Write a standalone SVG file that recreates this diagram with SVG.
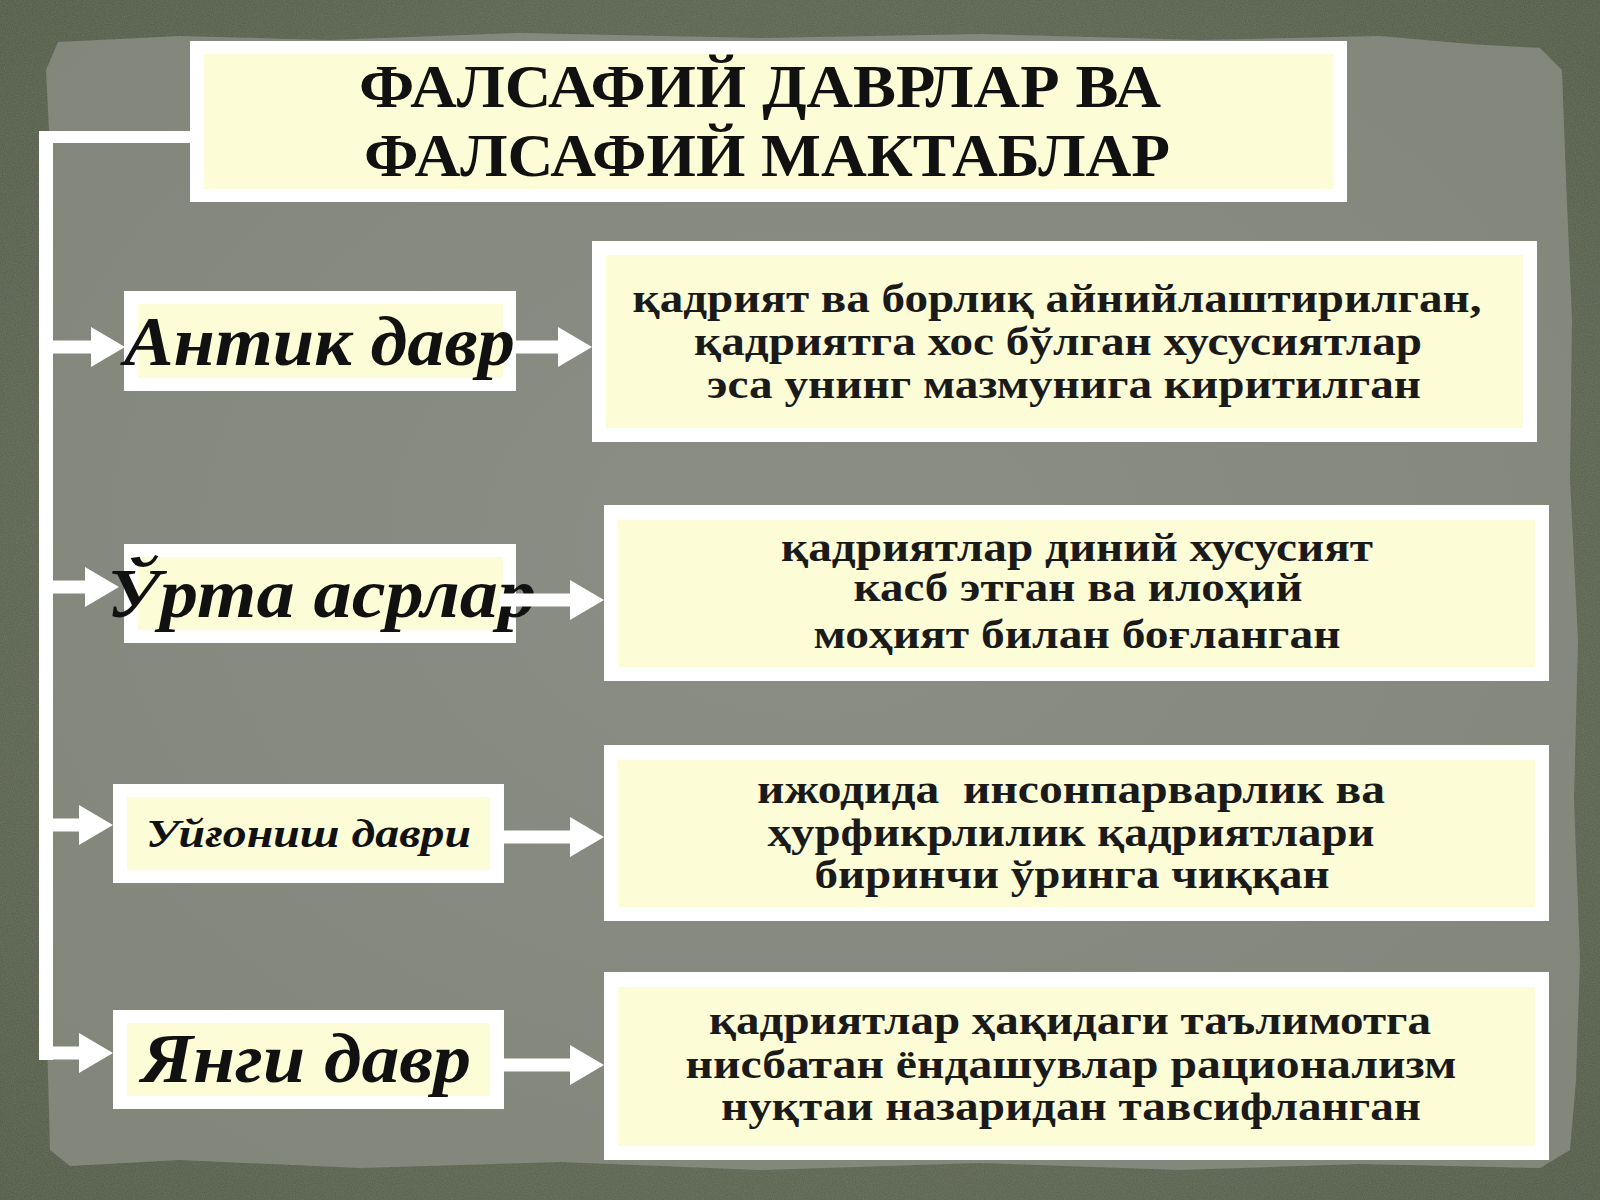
<svg xmlns="http://www.w3.org/2000/svg" width="1600" height="1200" viewBox="0 0 1600 1200">
<defs>
<radialGradient id="paper" cx="50%" cy="45%" r="65%">
<stop offset="0" stop-color="#8b8e85"/>
<stop offset="1" stop-color="#82867b"/>
</radialGradient>
<radialGradient id="frame" cx="50%" cy="50%" r="75%">
<stop offset="0" stop-color="#6a725f"/>
<stop offset="1" stop-color="#4d5543"/>
</radialGradient>
<filter id="grain" x="0" y="0" width="100%" height="100%">
<feTurbulence type="fractalNoise" baseFrequency="0.9" numOctaves="2" seed="3" result="n"/>
<feColorMatrix in="n" type="matrix" values="0 0 0 0 0.35  0 0 0 0 0.38  0 0 0 0 0.3  0 0 0 0.35 0"/>
<feComposite in2="SourceGraphic" operator="in"/>
</filter>
<marker id="head" viewBox="0 0 34 40" refX="1" refY="20" markerWidth="34" markerHeight="40" markerUnits="userSpaceOnUse" orient="auto">
<path d="M0 0 L34 20 L0 40 Z" fill="#ffffff"/>
</marker>
</defs>
<style>
.outer{fill:#ffffff}
.inner{fill:#fcfcd6}
.conn{stroke:#ffffff;stroke-width:13;fill:none;marker-end:url(#head)}
.bar{fill:#ffffff}
.title{font-family:"Liberation Serif","DejaVu Serif",serif;font-weight:bold;font-size:61px;fill:#111111;text-anchor:middle}
.big{font-family:"Liberation Serif","DejaVu Serif",serif;font-weight:bold;font-style:italic;font-size:70px;fill:#111111}
.mid{font-family:"Liberation Serif","DejaVu Serif",serif;font-weight:bold;font-style:italic;font-size:40px;fill:#111111}
.desc{font-family:"Liberation Serif","DejaVu Serif",serif;font-weight:bold;font-size:39px;fill:#1a1a1a;text-anchor:middle}
</style>
<!-- background -->
<rect x="0" y="0" width="1600" height="1200" fill="url(#frame)"/>
<rect x="0" y="0" width="1600" height="1200" fill="#000" filter="url(#grain)"/>
<path d="M58 42 L180 36 L330 40 L520 33 L760 38 L980 34 L1200 40 L1380 36 L1470 44 L1540 48 L1562 70 L1566 180 L1572 320 L1570 480 L1578 640 L1574 800 L1580 960 L1576 1080 L1570 1150 L1540 1168 L1360 1164 L1180 1170 L980 1163 L760 1170 L560 1162 L360 1168 L180 1160 L70 1166 L50 1150 L46 1000 L52 820 L44 640 L50 460 L44 300 L50 150 L46 70 Z" fill="url(#paper)"/>

<!-- connectors -->
<g id="connectors">
<path class="bar" d="M39 131 H190 V143 H53 V1060 H39 Z"/>
<line class="conn" x1="46" y1="347" x2="92" y2="347"/>
<line class="conn" x1="46" y1="587" x2="86" y2="587"/>
<line class="conn" x1="46" y1="825" x2="80" y2="825"/>
<line class="conn" x1="46" y1="1053" x2="80" y2="1053"/>
</g>

<g id="title">
<rect class="outer" x="190" y="41" width="1157" height="161"/>
<rect class="inner" x="204" y="54" width="1130" height="135"/>
<text class="title" x="760" y="107" textLength="802" lengthAdjust="spacingAndGlyphs">ФАЛСАФИЙ ДАВРЛАР ВА</text>
<text class="title" x="767" y="176" textLength="806" lengthAdjust="spacingAndGlyphs">ФАЛСАФИЙ МАКТАБЛАР</text>
</g>

<g id="antik">
<rect class="outer" x="124" y="291" width="392" height="100"/>
<rect class="inner" x="138" y="304" width="365" height="74"/>
<text class="big" x="124" y="365" textLength="391" lengthAdjust="spacingAndGlyphs">Антик давр</text>
</g>
<g id="urta">
<rect class="outer" x="124" y="544" width="392" height="99"/>
<rect class="inner" x="138" y="557" width="365" height="73"/>
<text class="big" x="107" y="617" textLength="429" lengthAdjust="spacingAndGlyphs">Ўрта асрлар</text>
</g>
<g id="uygonish">
<rect class="outer" x="113" y="784" width="391" height="99"/>
<rect class="inner" x="127" y="797" width="363" height="73"/>
<text class="mid" x="146" y="847" textLength="325" lengthAdjust="spacingAndGlyphs">Уйғониш даври</text>
</g>
<g id="yangi">
<rect class="outer" x="113" y="1010" width="391" height="99"/>
<rect class="inner" x="127" y="1023" width="363" height="73"/>
<text class="big" x="141" y="1082" textLength="330" lengthAdjust="spacingAndGlyphs">Янги давр</text>
</g>

<g id="desc1">
<rect class="outer" x="592" y="241" width="945" height="201"/>
<rect class="inner" x="606" y="255" width="917" height="173"/>
<text class="desc" x="1057" y="312" textLength="849" lengthAdjust="spacingAndGlyphs">қадрият ва борлиқ айнийлаштирилган,</text>
<text class="desc" x="1058" y="355" textLength="728" lengthAdjust="spacingAndGlyphs">қадриятга хос бўлган хусусиятлар</text>
<text class="desc" x="1064" y="398" textLength="714" lengthAdjust="spacingAndGlyphs">эса унинг мазмунига киритилган</text>
</g>
<g id="desc2">
<rect class="outer" x="604" y="505" width="945" height="176"/>
<rect class="inner" x="618" y="520" width="917" height="147"/>
<text class="desc" x="1077" y="561" textLength="592" lengthAdjust="spacingAndGlyphs">қадриятлар диний хусусият</text>
<text class="desc" x="1078" y="601" textLength="449" lengthAdjust="spacingAndGlyphs">касб этган ва илоҳий</text>
<text class="desc" x="1077" y="648" textLength="527" lengthAdjust="spacingAndGlyphs">моҳият билан боғланган</text>
</g>
<g id="desc3">
<rect class="outer" x="604" y="745" width="945" height="176"/>
<rect class="inner" x="618" y="760" width="917" height="147"/>
<text class="desc" x="1071" y="803" textLength="628" lengthAdjust="spacingAndGlyphs" xml:space="preserve">ижодида  инсонпарварлик ва</text>
<text class="desc" x="1071" y="846" textLength="607" lengthAdjust="spacingAndGlyphs">ҳурфикрлилик қадриятлари</text>
<text class="desc" x="1072" y="888" textLength="515" lengthAdjust="spacingAndGlyphs">биринчи ўринга чиққан</text>
</g>
<g id="desc4">
<rect class="outer" x="604" y="972" width="945" height="188"/>
<rect class="inner" x="618" y="987" width="917" height="159"/>
<text class="desc" x="1070" y="1034" textLength="722" lengthAdjust="spacingAndGlyphs">қадриятлар ҳақидаги таълимотга</text>
<text class="desc" x="1071" y="1078" textLength="771" lengthAdjust="spacingAndGlyphs">нисбатан ёндашувлар рационализм</text>
<text class="desc" x="1071" y="1120" textLength="700" lengthAdjust="spacingAndGlyphs">нуқтаи назаридан тавсифланган</text>
</g>

<g id="connectors-right">
<line class="conn" x1="516" y1="347" x2="559" y2="347"/>
<line class="conn" x1="500" y1="600" x2="571" y2="600"/>
<line class="conn" x1="504" y1="837" x2="571" y2="837"/>
<line class="conn" x1="504" y1="1065" x2="571" y2="1065"/>
</g>
</svg>
